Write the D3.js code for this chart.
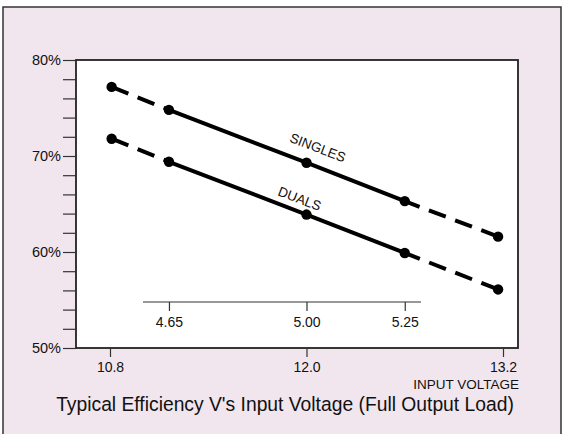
<!DOCTYPE html>
<html>
<head>
<meta charset="utf-8">
<script src="https://cdn.jsdelivr.net/npm/d3@7"></script>
<style>
body{margin:0;background:#fff;}
text{font-family:"Liberation Sans",Arial,sans-serif;fill:#111;}
</style>
</head>
<body>
<script>
// input voltage at each point (10.8V .. 13.2V), inner axis = output-ish scale
var vin = [10.81, 11.16, 12.0, 12.6, 13.17];
var singles = [77.2, 74.8, 69.3, 65.3, 61.6];
var duals = [71.8, 69.4, 63.9, 59.9, 56.1];
var xTicks = [10.8, 12.0, 13.2];
var innerTicks = [4.65, 5.00, 5.25];
var yTicks = [50, 60, 70, 80];

var w = 563, h = 434;
var svg = d3.select("body").append("svg").attr("width", w).attr("height", h);

svg.append("rect").attr("x", 3).attr("y", 7).attr("width", 558).attr("height", 440)
	.attr("fill", "#f1e6ee").attr("stroke", "#333").attr("stroke-width", 1.5);

var x = d3.scaleLinear().domain([10.8, 13.2]).range([110, 503]);
var y = d3.scaleLinear().domain([50, 80]).range([348, 60]);
var xi = d3.scaleLinear().domain([4.65, 5.25]).range([x(11.16), x(12.6)]);

svg.append("rect").attr("x", 76).attr("y", 60).attr("width", 442).attr("height", 288)
	.attr("fill", "#fff").attr("stroke", "#222").attr("stroke-width", 1.8);

// y axis
var yAxis = d3.axisLeft(y).tickValues(d3.range(50, 81, 2)).tickSize(13)
	.tickFormat(function(d){ return yTicks.indexOf(d) >= 0 ? d + "%" : ""; });
var gy = svg.append("g").attr("transform", "translate(76,0)").call(yAxis);
gy.select(".domain").remove();
gy.selectAll("line").attr("stroke", "#333").attr("stroke-width", 1.2);
gy.selectAll("text").attr("font-size", 14.5).attr("x", -15).attr("fill", "#111");

// x axis
var xAxis = d3.axisBottom(x).tickValues(xTicks).tickSize(9).tickPadding(5)
	.tickFormat(d3.format(".1f"));
var gx = svg.append("g").attr("transform", "translate(0,348)").call(xAxis);
gx.select(".domain").remove();
gx.selectAll("line").attr("stroke", "#333").attr("stroke-width", 1.2);
gx.selectAll("text").attr("font-size", 14).attr("fill", "#111");

// inner axis
var xiAxis = d3.axisBottom(xi).tickValues(innerTicks).tickSize(9).tickPadding(6)
	.tickFormat(d3.format(".2f")).tickSizeOuter(0);
var gi = svg.append("g").attr("transform", "translate(0,302)").call(xiAxis);
gi.select(".domain").attr("d", "M143,0H421").attr("stroke", "#333").attr("stroke-width", 1.2);
gi.selectAll("line").attr("stroke", "#333").attr("stroke-width", 1.2);
gi.selectAll("text").attr("font-size", 14).attr("fill", "#111");

svg.append("text").attr("x", 519).attr("y", 389).attr("text-anchor", "end")
	.attr("font-size", 13.5).text("INPUT VOLTAGE");

svg.append("text").attr("x", 285).attr("y", 411).attr("text-anchor", "middle")
	.attr("font-size", 19.3).text("Typical Efficiency V's Input Voltage (Full Output Load)");

// series
function drawSeries(vals){
	var pts = vin.map(function(v, i){ return [x(v), y(vals[i])]; });
	var line = d3.line();
	svg.append("path").attr("d", line(pts.slice(0, 2))).attr("stroke", "#000")
		.attr("stroke-width", 4).attr("fill", "none").attr("stroke-dasharray", "18,10");
	svg.append("path").attr("d", line(pts.slice(1, 4))).attr("stroke", "#000")
		.attr("stroke-width", 4).attr("fill", "none");
	var last = pts.slice(3, 5);
	svg.append("path").attr("d", line([last[1], last[0]])).attr("stroke", "#000")
		.attr("stroke-width", 4).attr("fill", "none").attr("stroke-dasharray", "18,10");
	svg.selectAll(null).data(pts).enter().append("circle")
		.attr("cx", function(d){ return d[0]; }).attr("cy", function(d){ return d[1]; })
		.attr("r", 5.2).attr("fill", "#000");
}
drawSeries(singles);
drawSeries(duals);

var ang = Math.atan((y(singles[3]) - y(singles[1])) / (x(vin[3]) - x(vin[1]))) * 180 / Math.PI;
svg.append("text").attr("transform", "translate(316,152) rotate(" + ang + ")")
	.attr("text-anchor", "middle").attr("font-size", 13.5).text("SINGLES");
svg.append("text").attr("transform", "translate(298,203) rotate(" + ang + ")")
	.attr("text-anchor", "middle").attr("font-size", 13.5).text("DUALS");
</script>
</body>
</html>
